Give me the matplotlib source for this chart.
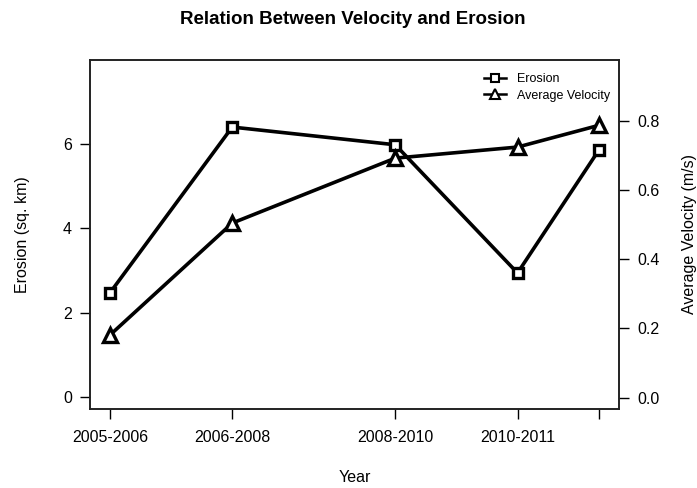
import matplotlib
matplotlib.use("Agg")
import matplotlib.pyplot as plt
from matplotlib.lines import Line2D

plt.rcParams['font.family'] = ['Liberation Sans', 'DejaVu Sans']

# period midpoints (years) and labels
x_pos = [2005.5, 2007, 2009, 2010.5, 2011.5]
x_labels = ['2005-2006', '2006-2008', '2008-2010', '2010-2011', '']
erosion = [2.47, 6.40, 5.98, 2.94, 5.86]
velocity = [0.181, 0.505, 0.693, 0.725, 0.788]

fig = plt.figure(figsize=(6.97, 4.88), dpi=100)
ax = fig.add_axes([90 / 697, 79 / 488, 529 / 697, 349 / 488])

ax.plot(x_pos, erosion, color='black', lw=2.6, marker='s', ms=7.5,
        mfc='white', mec='black', mew=2.4, zorder=3)
ax.set_xlim(2005.255, 2011.745)
ax.set_ylim(-0.285, 7.99)
ax.set_yticks([0, 2, 4, 6])
ax.set_xticks(x_pos)
ax.set_xticklabels(x_labels)
ax.tick_params(direction='out', length=7, width=1, labelsize=11.5, pad=6)
ax.tick_params(axis='x', pad=8)
ax.set_ylabel('Erosion (sq. km)', fontsize=11.5, labelpad=24)
ax.set_xlabel('Year', fontsize=11.5, labelpad=18)

ax2 = ax.twinx()
ax2.plot(x_pos, velocity, color='black', lw=2.6, marker='^', ms=9.5,
         mfc='white', mec='black', mew=2.4, zorder=3)
ax2.set_ylim(-0.033, 0.977)
ax2.set_yticks([0.0, 0.2, 0.4, 0.6, 0.8])
ax2.set_yticklabels(['0.0', '0.2', '0.4', '0.6', '0.8'])
ax2.tick_params(direction='out', length=7, width=1, labelsize=11.5, pad=6)
ax2.set_ylabel('Average Velocity (m/s)', fontsize=11.5, labelpad=16)

for a in (ax, ax2):
    for s in a.spines.values():
        s.set_color('#222222')
        s.set_linewidth(1.2)

handles = [
    Line2D([], [], color='black', lw=1.8, marker='s', ms=6, mfc='white', mew=1.5),
    Line2D([], [], color='black', lw=1.8, marker='^', ms=7, mfc='white', mew=1.5),
]
ax.legend(handles, ['Erosion', 'Average Velocity'], loc='upper left',
          bbox_to_anchor=(478 / 697, 1 - 67 / 488), bbox_transform=fig.transFigure,
          frameon=False, fontsize=9, handlelength=1.7, handletextpad=0.9,
          labelspacing=0.35, borderpad=0)

fig.suptitle('Relation Between Velocity and Erosion', fontsize=13.5,
             fontweight='bold', x=353 / 697, y=1 - 20 / 488, va='center')

fig.savefig('out.png', dpi=100, facecolor='white')
